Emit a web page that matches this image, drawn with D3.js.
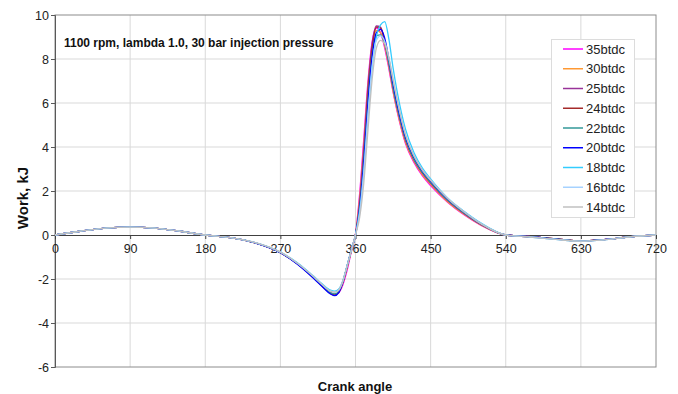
<!DOCTYPE html>
<html><head><meta charset="utf-8">
<script src="https://cdn.jsdelivr.net/npm/d3@7/dist/d3.min.js"></script>
<style>
body{margin:0;background:#fff;}
svg{display:block;font-family:"Liberation Sans",Arial,sans-serif;}
</style></head>
<body><svg id="c" width="678" height="394"></svg>
<script>
// Crank angle sample points (degrees)
const angles = [0,30,60,90,120,150,180,210,240,270,290,310,320,330,335,340,345,350,355,360,365,370,375,380,385,390,395,400,405,410,420,430,440,450,470,490,510,540,570,600,630,660,690,720];

const seriesNames = ["35btdc","30btdc","25btdc","24btdc","22btdc","20btdc","18btdc","16btdc","14btdc"];
const seriesColors = ["#ff00ff","#ff9933","#993399","#a52a2a","#339999","#0000ff","#33ccff","#a6d2ff","#c0c0c0"];

const w35 = [0,0.17,0.31,0.36,0.31,0.17,0,-0.12,-0.36,-0.8,-1.28,-1.92,-2.28,-2.6,-2.7,-2.62,-2.25,-1.6,-0.75,0.05,1.9,4.4,7.0,8.8,9.4,9.2,8.5,7.55,6.5,5.6,4.15,3.3,2.7,2.25,1.5,0.92,0.45,0,-0.08,-0.18,-0.27,-0.2,-0.08,0];
const w30 = [0,0.17,0.31,0.36,0.31,0.17,0,-0.12,-0.36,-0.8,-1.29,-1.93,-2.29,-2.61,-2.69,-2.58,-2.18,-1.5,-0.72,0.03,1.7,4.1,6.8,8.6,9.3,9.2,8.6,7.65,6.55,5.65,4.2,3.35,2.75,2.3,1.52,0.94,0.46,0,-0.08,-0.18,-0.27,-0.2,-0.08,0];
const w25 = [0,0.17,0.31,0.36,0.31,0.17,0,-0.12,-0.36,-0.8,-1.3,-1.95,-2.31,-2.64,-2.72,-2.6,-2.15,-1.45,-0.7,0.02,1.5,3.9,6.7,8.7,9.5,9.45,8.8,7.8,6.7,5.8,4.3,3.42,2.82,2.36,1.58,0.98,0.48,0,-0.08,-0.18,-0.27,-0.2,-0.08,0];
const w24 = [0,0.17,0.31,0.36,0.31,0.17,0,-0.12,-0.36,-0.8,-1.3,-1.96,-2.32,-2.65,-2.73,-2.6,-2.12,-1.42,-0.7,0.01,1.4,3.7,6.5,8.5,9.45,9.4,8.8,7.85,6.75,5.85,4.35,3.45,2.85,2.38,1.6,1.0,0.5,0,-0.08,-0.18,-0.27,-0.2,-0.08,0];
const w22 = [0,0.17,0.31,0.36,0.31,0.17,0,-0.12,-0.36,-0.8,-1.3,-1.95,-2.3,-2.62,-2.68,-2.55,-2.1,-1.4,-0.7,0,1.3,3.5,6.2,8.2,9.05,9.1,8.7,7.8,6.7,5.8,4.35,3.45,2.85,2.4,1.6,1.0,0.5,0,-0.08,-0.18,-0.27,-0.2,-0.08,0];
const w20 = [0,0.17,0.31,0.36,0.31,0.17,0,-0.12,-0.36,-0.8,-1.32,-1.98,-2.34,-2.68,-2.76,-2.62,-2.12,-1.4,-0.68,0,1.2,3.3,6.0,8.1,9.2,9.35,8.95,8.0,6.9,5.95,4.45,3.55,2.92,2.45,1.65,1.04,0.52,0,-0.08,-0.19,-0.28,-0.2,-0.08,0];
const w18 = [0,0.17,0.31,0.36,0.31,0.17,0,-0.12,-0.35,-0.78,-1.25,-1.88,-2.22,-2.5,-2.55,-2.45,-2.05,-1.38,-0.68,0,1.1,2.9,5.4,7.6,9.0,9.55,9.7,8.9,7.6,6.5,4.8,3.75,3.05,2.55,1.7,1.08,0.55,0,-0.09,-0.2,-0.28,-0.21,-0.08,0];
const w16 = [0,0.17,0.31,0.36,0.31,0.17,0,-0.12,-0.35,-0.78,-1.27,-1.9,-2.25,-2.55,-2.6,-2.5,-2.08,-1.4,-0.7,0,1.0,2.9,5.5,7.7,8.85,9.05,8.8,8.05,7.05,6.1,4.55,3.6,2.97,2.5,1.68,1.06,0.53,0,-0.09,-0.2,-0.28,-0.21,-0.08,0];
const w14 = [0,0.17,0.31,0.36,0.31,0.17,0,-0.12,-0.35,-0.78,-1.27,-1.9,-2.25,-2.55,-2.6,-2.5,-2.08,-1.4,-0.7,0,0.8,2.4,4.8,7.1,8.5,8.85,8.7,8.05,7.1,6.15,4.55,3.6,2.95,2.48,1.67,1.05,0.52,0,-0.09,-0.2,-0.28,-0.21,-0.08,0];
const seriesValues = [w35,w30,w25,w24,w22,w20,w18,w16,w14];

const xTicks = [0,90,180,270,360,450,540,630,720];
const yTicks = [-6,-4,-2,0,2,4,6,8,10];

const titleText = "1100 rpm, lambda 1.0, 30 bar injection pressure";
const xTitle = "Crank angle";
const yTitle = "Work, kJ";

const svg = d3.select("#c");
const L = 55, R = 656, T = 15, B = 367;
const x = d3.scaleLinear().domain([0,720]).range([L,R]);
const y = d3.scaleLinear().domain([-6,10]).range([B,T]);

// gridlines
svg.append("g").selectAll("line.h").data(yTicks.filter(d=>d!==0&&d!==10&&d!==-6)).join("line")
  .attr("x1",L).attr("x2",R).attr("y1",d=>y(d)).attr("y2",d=>y(d))
  .attr("stroke","#d9d9d9").attr("stroke-width",1);
svg.append("g").selectAll("line.v").data(xTicks.filter(d=>d!==0&&d!==720)).join("line")
  .attr("y1",T).attr("y2",B).attr("x1",d=>x(d)).attr("x2",d=>x(d))
  .attr("stroke","#d9d9d9").attr("stroke-width",1);

// plot border
svg.append("rect").attr("x",L).attr("y",T).attr("width",R-L).attr("height",B-T)
  .attr("fill","none").attr("stroke","#8c8c8c").attr("stroke-width",1);

// y axis
const yAxis = d3.axisLeft(y).tickValues(yTicks).tickSize(4).tickFormat(d=>String(d));
const gy = svg.append("g").attr("transform",`translate(${L},0)`).call(yAxis);
gy.select(".domain").attr("stroke","#595959");
gy.selectAll(".tick line").attr("stroke","#595959");
gy.selectAll(".tick text").attr("font-size",12.5).attr("fill","#222").attr("font-family","Liberation Sans, Arial, sans-serif").attr("x",-6);

// x axis at zero
const xAxis = d3.axisBottom(x).tickValues(xTicks).tickSize(4).tickFormat(d=>String(d));
const gx = svg.append("g").attr("transform",`translate(0,${y(0)})`).call(xAxis);
gx.select(".domain").attr("stroke","#404040");
gx.selectAll(".tick line").attr("stroke","#404040");
gx.selectAll(".tick text").attr("font-size",12.5).attr("fill","#222").attr("font-family","Liberation Sans, Arial, sans-serif").attr("y",9);

// lines
const line = d3.line().x((d,i)=>x(angles[i])).y(d=>y(d)).curve(d3.curveMonotoneX);
svg.append("g").selectAll("path").data(seriesValues).join("path")
  .attr("d",d=>line(d)).attr("fill","none")
  .attr("stroke",(d,i)=>seriesColors[i]).attr("stroke-width",1.3);

// title inside
svg.append("text").attr("x",64).attr("y",47).attr("font-size",12).attr("font-weight","bold")
  .attr("fill","#111").text(titleText);

// legend
const lg = svg.append("g");
lg.append("rect").attr("x",551.5).attr("y",39.5).attr("width",83).attr("height",178)
  .attr("fill","#fff").attr("stroke","#dcdcdc");
const ent = lg.selectAll("g.e").data(seriesNames).join("g")
  .attr("transform",(d,i)=>`translate(0,${49+i*19.75})`);
ent.append("line").attr("x1",563).attr("x2",583).attr("y1",0).attr("y2",0)
  .attr("stroke",(d,i)=>seriesColors[i]).attr("stroke-width",1.5);
ent.append("text").attr("x",586).attr("y",4.5).attr("font-size",13).attr("fill","#222").text(d=>d);

// axis titles
svg.append("text").attr("x",355).attr("y",391).attr("text-anchor","middle")
  .attr("font-size",13).attr("font-weight","bold").attr("fill","#111").text(xTitle);
svg.append("text").attr("transform","translate(28,198) rotate(-90)").attr("text-anchor","middle")
  .attr("font-size",15).attr("font-weight","bold").attr("fill","#111").text(yTitle);
</script></body></html>
